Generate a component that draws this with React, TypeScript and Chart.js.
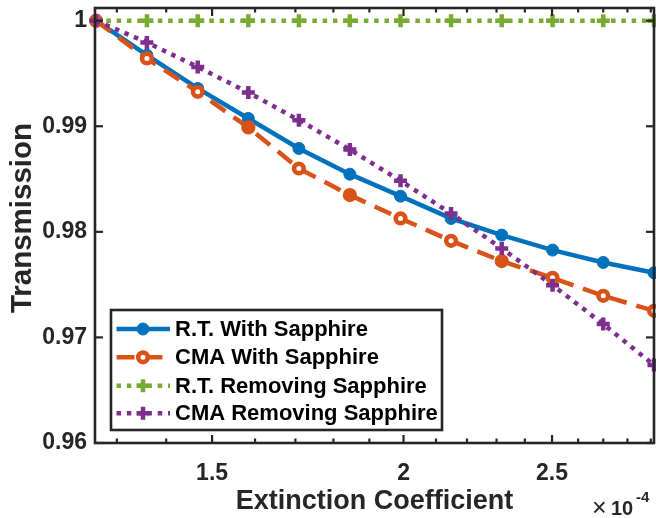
import React, { useEffect, useRef } from 'react';
import { Chart, registerables } from 'chart.js';

Chart.register(...registerables);

// ---- data (x in units of 1e-4) ----
const extinction = [1.26, 1.36, 1.468, 1.584, 1.709, 1.845, 1.991, 2.148, 2.318, 2.502, 2.7, 2.914];
const rtWith = [1.0, 0.99673, 0.99358, 0.99074, 0.9879, 0.98546, 0.98338, 0.98127, 0.97969, 0.97827, 0.9771, 0.97612];
const cmaWith = [1.0, 0.99642, 0.99326, 0.98989, 0.986, 0.98348, 0.98127, 0.97915, 0.97723, 0.97564, 0.97394, 0.97252];
const rtRemoving = [1.0, 1.0, 1.0, 1.0, 1.0, 1.0, 1.0, 1.0, 1.0, 1.0, 1.0, 1.0];
const cmaRemoving = [1.0, 0.99794, 0.99562, 0.9932, 0.99058, 0.9878, 0.98483, 0.98174, 0.97843, 0.97495, 0.97126, 0.96738];
const seriesNames = ['R.T. With Sapphire', 'CMA With Sapphire', 'R.T. Removing Sapphire', 'CMA Removing Sapphire'];

const xTickValues = [1.3, 1.4, 1.5, 1.6, 1.7, 1.8, 1.9, 2, 2.1, 2.2, 2.3, 2.4, 2.5, 2.6, 2.7, 2.8, 2.9];
const xLabeledTicks = [1.5, 2, 2.5];
const xTickLabels = ['1.5', '2', '2.5'];
const yTicks = [0.96, 0.97, 0.98, 0.99, 1];
const yTickLabels = ['0.96', '0.97', '0.98', '0.99', '1'];
const xTitle = 'Extinction Coefficient';
const yTitle = 'Transmission';

const FONT = "'Liberation Sans', Arial, Helvetica, sans-serif";
const AXC = '#262626';
const BLUE = '#0072BD';
const ORANGE = '#D95319';
const GREEN = '#77AC30';
const PURPLE = '#7E2F8E';

const orangeFilled = [3, 5, 8];

function pts(ys: number[]) {
  return extinction.map((x, i) => ({ x, y: ys[i] }));
}

function drawMarker(ctx: CanvasRenderingContext2D, ds: any, x: number, y: number, bg: string) {
  ctx.save();
  ctx.setLineDash([]);
  ctx.lineWidth = ds.pointBorderWidth;
  ctx.strokeStyle = ds.pointBorderColor;
  if (ds.pointStyle === 'cross') {
    const r = ds.pointRadius;
    ctx.beginPath();
    ctx.moveTo(x - r, y);
    ctx.lineTo(x + r, y);
    ctx.moveTo(x, y - r);
    ctx.lineTo(x, y + r);
    ctx.stroke();
  } else {
    ctx.beginPath();
    ctx.arc(x, y, ds.pointRadius, 0, Math.PI * 2);
    ctx.fillStyle = bg;
    ctx.fill();
    ctx.stroke();
  }
  ctx.restore();
}

const axesPlugin = {
  id: 'matlabAxes',
  afterDatasetsDraw(chart: any) {
    const { ctx, chartArea, scales } = chart;
    const { left, right, top, bottom } = chartArea;
    const xs = scales.x;
    const ys = scales.y;
    ctx.save();
    ctx.strokeStyle = AXC;
    ctx.lineWidth = 2.2;
    ctx.setLineDash([]);
    const seg = (a: number, b: number, c: number, d: number) => {
      ctx.beginPath();
      ctx.moveTo(a, b);
      ctx.lineTo(c, d);
      ctx.stroke();
    };
    for (const v of xTickValues) {
      const px = xs.getPixelForValue(v);
      const len = xLabeledTicks.includes(v) ? 8 : 4.5;
      seg(px, bottom, px, bottom - len);
      seg(px, top, px, top + len);
    }
    for (const v of yTicks) {
      const py = ys.getPixelForValue(v);
      seg(left, py, left + 8, py);
      seg(right, py, right - 8, py);
    }
    ctx.lineWidth = 2.6;
    ctx.strokeRect(left, top, right - left, bottom - top);
    ctx.restore();
  },
  afterDraw(chart: any) {
    const { ctx } = chart;
    ctx.save();
    // y title
    ctx.fillStyle = AXC;
    ctx.font = `bold 29.5px ${FONT}`;
    ctx.textAlign = 'center';
    ctx.textBaseline = 'middle';
    ctx.translate(23, 218);
    ctx.rotate(-Math.PI / 2);
    ctx.fillText(yTitle, 0, 0);
    ctx.restore();

    // x10^-4
    ctx.save();
    ctx.fillStyle = AXC;
    ctx.textBaseline = 'alphabetic';
    ctx.textAlign = 'left';
    ctx.font = `25px ${FONT}`;
    ctx.fillText('\u00d7', 592, 516);
    ctx.font = `bold 20px ${FONT}`;
    ctx.fillText('10', 611, 515);
    ctx.font = `bold 15px ${FONT}`;
    ctx.fillText('-4', 636, 502);
    ctx.restore();

    // legend
    const lx = 111, ly = 310, lw = 331, lh = 120;
    ctx.save();
    ctx.fillStyle = '#ffffff';
    ctx.fillRect(lx, ly, lw, lh);
    ctx.strokeStyle = AXC;
    ctx.lineWidth = 2.6;
    ctx.strokeRect(lx, ly, lw, lh);
    const rows = [329, 357.3, 385.7, 413.3];
    const dss = chart.data.datasets;
    dss.forEach((ds: any, i: number) => {
      const y = rows[i];
      ctx.save();
      ctx.strokeStyle = ds.borderColor;
      ctx.lineWidth = ds.borderWidth;
      ctx.setLineDash(ds.borderDash || []);
      ctx.beginPath();
      ctx.moveTo(116.5, y);
      ctx.lineTo(170, y);
      ctx.stroke();
      ctx.restore();
      drawMarker(ctx, ds, 143, y, i === 1 ? '#ffffff' : ds.borderColor);
      ctx.fillStyle = '#000000';
      ctx.font = `bold 22px ${FONT}`;
      ctx.textAlign = 'left';
      ctx.textBaseline = 'middle';
      ctx.fillText(seriesNames[i], 175, y + 1);
    });
    ctx.restore();
  },
};

export default function App() {
  const ref = useRef<HTMLCanvasElement | null>(null);
  useEffect(() => {
    if (!ref.current) return;
    const chart = new Chart(ref.current, {
      type: 'line',
      data: {
        datasets: [
          {
            label: seriesNames[0],
            data: pts(rtWith),
            borderColor: BLUE,
            backgroundColor: BLUE,
            borderWidth: 4.5,
            pointStyle: 'circle',
            pointRadius: 6,
            pointBorderWidth: 1,
            pointBorderColor: BLUE,
            pointBackgroundColor: BLUE,
            order: 3,
            clip: false,
          } as any,
          {
            label: seriesNames[1],
            data: pts(cmaWith),
            borderColor: ORANGE,
            backgroundColor: ORANGE,
            borderWidth: 4.5,
            borderDash: [18, 10],
            pointStyle: 'circle',
            pointRadius: 4.8,
            pointBorderWidth: 4.6,
            pointBorderColor: ORANGE,
            pointBackgroundColor: extinction.map((_, i) => (orangeFilled.includes(i) ? ORANGE : '#ffffff')),
            order: 2,
            clip: false,
          } as any,
          {
            label: seriesNames[2],
            data: pts(rtRemoving),
            borderColor: GREEN,
            backgroundColor: GREEN,
            borderWidth: 4.5,
            borderDash: [4.5, 5.8],
            pointStyle: 'cross',
            pointRadius: 6.5,
            pointBorderWidth: 4.5,
            pointBorderColor: GREEN,
            pointBackgroundColor: GREEN,
            order: 1,
            clip: false,
          } as any,
          {
            label: seriesNames[3],
            data: pts(cmaRemoving),
            borderColor: PURPLE,
            backgroundColor: PURPLE,
            borderWidth: 4.5,
            borderDash: [4.5, 5.8],
            pointStyle: 'cross',
            pointRadius: 6.5,
            pointBorderWidth: 4.5,
            pointBorderColor: PURPLE,
            pointBackgroundColor: PURPLE,
            order: 0,
            clip: false,
          } as any,
        ],
      },
      options: {
        responsive: false,
        animation: false,
        devicePixelRatio: 1,
        layout: { autoPadding: false, padding: { top: 8, right: 2, left: 0, bottom: 0 } },
        plugins: { legend: { display: false }, tooltip: { enabled: false } },
        elements: { line: { tension: 0 } },
        scales: {
          x: {
            type: 'logarithmic',
            min: 1.258,
            max: 2.914,
            grid: { display: false, drawTicks: false },
            border: { display: false },
            afterBuildTicks: (scale: any) => {
              scale.ticks = xTickValues.map((v) => ({ value: v }));
            },
            afterFit: (scale: any) => {
              scale.height = 75;
              scale.paddingLeft = 0;
              scale.paddingRight = 0;
            },
            ticks: {
              autoSkip: false,
              maxRotation: 0,
              padding: 17,
              color: AXC,
              font: { family: FONT, size: 23, weight: 'bold' },
              callback: (_v: any, idx: number) => {
                const k = xLabeledTicks.indexOf(xTickValues[idx]);
                return k >= 0 ? xTickLabels[k] : '';
              },
            },
            title: {
              display: true,
              text: xTitle,
              color: AXC,
              font: { family: FONT, size: 27, weight: 'bold' },
              padding: { top: 0, bottom: 0 },
            },
          },
          y: {
            type: 'linear',
            min: 0.96,
            max: 1.0012,
            grid: { display: false, drawTicks: false },
            border: { display: false },
            afterBuildTicks: (scale: any) => {
              scale.ticks = yTicks.map((v) => ({ value: v }));
            },
            afterFit: (scale: any) => {
              scale.width = 95;
              scale.paddingTop = 0;
              scale.paddingBottom = 0;
            },
            ticks: {
              padding: 8,
              color: AXC,
              font: { family: FONT, size: 23, weight: 'bold' },
              callback: (_v: any, idx: number) => yTickLabels[idx],
            },
          },
        },
      } as any,
      plugins: [axesPlugin],
    });
    return () => chart.destroy();
  }, []);
  return (
    <div style={{ position: 'absolute', left: 0, top: 0, width: 656, height: 518, background: '#fff' }}>
      <canvas ref={ref} width={656} height={518} style={{ display: 'block' }} />
    </div>
  );
}
